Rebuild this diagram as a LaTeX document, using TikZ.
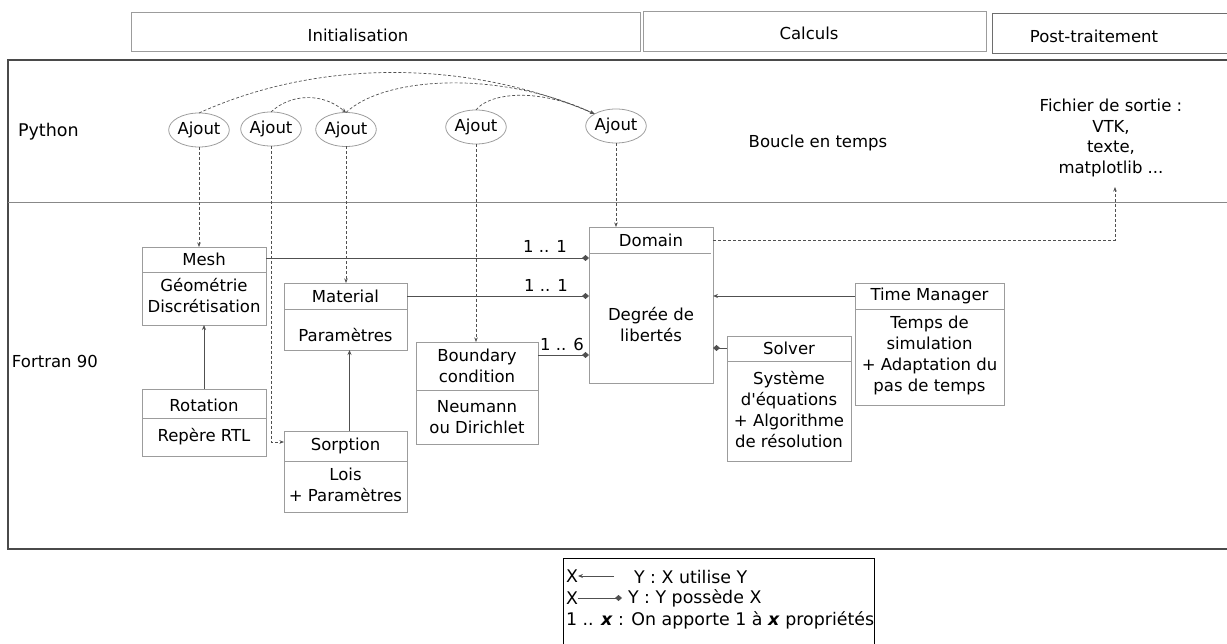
\documentclass[tikz,border=0pt]{standalone}
\usepackage{fontspec}
\setmainfont{DejaVu Sans}
\newfontfamily\plainfont{DejaVu Sans}
\usetikzlibrary{shapes.geometric,arrows.meta}
\definecolor{boxgray}{HTML}{9C9C9C}
\definecolor{linegray}{HTML}{505050}
\definecolor{framegray}{HTML}{4A4A4A}
\begin{document}
\begin{tikzpicture}[x=1pt,y=-1pt,
  font=\fontsize{16.5}{21}\selectfont,
  cls/.style={rectangle,draw=boxgray,line width=0.9pt,inner sep=0pt,outer sep=0pt},
  hdr/.style={rectangle,draw=boxgray,line width=0.9pt,inner sep=0pt,outer sep=0pt},
  txt/.style={inner sep=0pt,outer sep=0pt,align=center,text=black},
  divl/.style={draw=boxgray,line width=0.9pt},
  ajout/.style={ellipse,draw=boxgray,line width=0.8pt,minimum width=54pt,minimum height=34pt,inner sep=0pt,outer sep=0pt},
  own/.style={draw=linegray,line width=0.9pt,-{Diamond[length=7pt,width=6pt]}},
  uses/.style={draw=linegray,line width=0.9pt,-{Stealth[length=5pt,width=4pt]}},
  dep/.style={draw=linegray,line width=0.7pt,dash pattern=on 3pt off 2pt,-{Stealth[length=4.5pt,width=3.5pt]}},
  legtxt/.style={txt,anchor=west,font=\fontsize{17.4}{21}\selectfont}
]
\useasboundingbox (0,0) rectangle (1227,644);

% headers
\node[hdr,minimum width=509pt,minimum height=39pt] (hInit) at (385.5,31.5) {};
\node[txt] (hInitT) at (358,35) {Initialisation};
\node[hdr,minimum width=343pt,minimum height=40pt] (hCalc) at (814.5,31) {};
\node[txt] (hCalcT) at (809,33) {Calculs};
\node[hdr,draw=framegray!80,minimum width=250pt,minimum height=40pt] (hPost) at (1117,33) {};
\node[txt] (hPostT) at (1094,36) {Post-traitement};

% main frame
\draw[draw=framegray,line width=1.1pt] (8,60) rectangle (1240,549);
\draw[draw=boxgray!120,line width=0.9pt] (8,202) -- (1240,202);
\node[txt,anchor=west,font=\fontsize{17.5}{21}\selectfont] (python) at (18,132) {Python};
\node[txt,anchor=west] (fortran) at (12,361) {Fortran 90};
\node[txt] (boucle) at (818,143) {Boucle en temps};
\node[txt,font=\fontsize{16.5}{20.5}\selectfont] (fichier) at (1111,138) {Fichier de sortie :\\VTK,\\texte,\\matplotlib ...};

% Ajout ellipses
\node[ajout] (aj1) at (199,130) {Ajout};
\node[ajout] (aj2) at (271,129) {Ajout};
\node[ajout] (aj3) at (346,129.5) {Ajout};
\node[ajout] (aj4) at (476,127) {Ajout};
\node[ajout] (aj5) at (616,126) {Ajout};

% classes
\node[cls,minimum width=124pt,minimum height=78pt] (mesh) at (204,286) {};
\draw[divl] (mesh.west |- 0,272) -- (mesh.east |- 0,272);
\node[txt] (meshT) at (204,259) {Mesh};
\node[txt] (meshB) at (204,296) {Géométrie\\Discrétisation};

\node[cls,minimum width=123pt,minimum height=67pt] (mat) at (345.5,316.5) {};
\draw[divl] (mat.west |- 0,309) -- (mat.east |- 0,309);
\node[txt] (matT) at (345.5,296) {Material};
\node[txt] (matB) at (345.5,335) {Paramètres};

\node[cls,minimum width=124pt,minimum height=67pt] (rot) at (204,422.5) {};
\draw[divl] (rot.west |- 0,418) -- (rot.east |- 0,418);
\node[txt] (rotT) at (204,405) {Rotation};
\node[txt] (rotB) at (204,437) {Repère RTL};

\node[cls,minimum width=123pt,minimum height=81pt] (sorp) at (345.5,471.5) {};
\draw[divl] (sorp.west |- 0,461) -- (sorp.east |- 0,461);
\node[txt] (sorpT) at (345.5,446) {Sorption};
\node[txt] (sorpB) at (345.5,485) {Lois\\+ Paramètres};

\node[cls,minimum width=122pt,minimum height=102pt] (bc) at (477,393) {};
\draw[divl] (bc.west |- 0,390) -- (bc.east |- 0,390);
\node[txt] (bcT) at (477,366) {Boundary\\condition};
\node[txt] (bcB) at (477,417) {Neumann\\ou Dirichlet};

\node[cls,minimum width=124pt,minimum height=156pt] (domain) at (651,305) {};
\draw[divl] (domain.west |- 0,253) -- ([xshift=-2pt]domain.east |- 0,253);
\node[txt] (domT) at (651,240) {Domain};
\node[txt] (domB) at (651,325) {Degrée de\\libertés};

\node[cls,minimum width=124pt,minimum height=125pt] (solver) at (789,398.5) {};
\draw[divl] (solver.west |- 0,361) -- (solver.east |- 0,361);
\node[txt] (solT) at (789,348) {Solver};
\node[txt] (solB) at (789,410) {Système\\{\plainfont d'équations}\\+ Algorithme\\de résolution};

\node[cls,minimum width=149pt,minimum height=122pt] (tm) at (929.5,344) {};
\draw[divl] (tm.west |- 0,309) -- (tm.east |- 0,309);
\node[txt] (tmT) at (929.5,296) {Time Manager};
\node[txt] (tmB) at (929.5,355) {Temps de\\simulation\\+ Adaptation du\\pas de temps};

% composition links
\coordinate (m1) at ([yshift=-11pt]mesh.north east);
\draw[own] (m1) -- (m1 -| domain.west);
\draw[own] (mat.east |- matT) -- (domain.west |- matT);
\coordinate (b1) at ([yshift=-13pt]bc.north east);
\draw[own] (b1) -- (b1 -| domain.west);
\draw[own] (solver.west |- solT) -- (domain.east |- solT);
\node[txt] (lab1) at (545,246) {1 .. 1};
\node[txt] (lab2) at (546,285) {1 .. 1};
\node[txt] (lab3) at (562,344) {1 .. 6};

% use links
\draw[uses] (tm.west |- tmT) -- (domain.east |- tmT);
\draw[uses] (rot.north) -- (mesh.south);
\draw[uses] ([xshift=4pt]sorp.north) -- ([xshift=4pt]mat.south);

% dashed links from Python
\draw[dep] (aj1.south) -- (aj1.south |- mesh.north);
\coordinate (s1) at ([yshift=-11pt]sorp.north west);
\draw[dep] (aj2.south) |- (s1);
\draw[dep] (aj3.south) -- (aj3.south |- mat.north);
\draw[dep] (aj4.south) -- (aj4.south |- bc.north);
\draw[dep] (aj5.south) -- (aj5.south |- domain.north);
\coordinate (f1) at (1115,187);
\draw[dep] (domain.east |- domT) -| (f1);

% arcs between Ajout
\draw[dep] (aj1.north) .. controls (320,58) and (470,60) .. (aj5.north west);
\draw[dep] (aj2.north) .. controls (290,94) and (322,92) .. (aj3.north);
\draw[dep] (aj3.north) .. controls (385,76) and (500,70) .. (aj5.north west);
\draw[dep] (aj4.north) .. controls (488,94) and (535,86) .. (aj5.north west);

% legend
\node[draw=black,line width=0.9pt,minimum width=311pt,minimum height=90pt,inner sep=0pt] (legend) at (718.5,603) {};
\node[legtxt] (lx1) at (566,576) {X};
\coordinate (la1) at (614,576);
\draw[uses,line width=0.8pt] (la1) -- (lx1.east);
\node[legtxt] (ly1) at (634,577) {Y : X utilise Y};
\node[legtxt] (lx2) at (566,598) {X};
\coordinate (la2) at (622,598);
\draw[own,line width=0.8pt] (lx2.east) -- (la2);
\node[legtxt] (ly2) at (628,598) {Y : Y possède X};
\node[legtxt] (l3) at (566,620) {1 .. \textbf{\textit{x}} : On apporte 1 à \textbf{\textit{x}} propriétés};
\end{tikzpicture}
\end{document}
